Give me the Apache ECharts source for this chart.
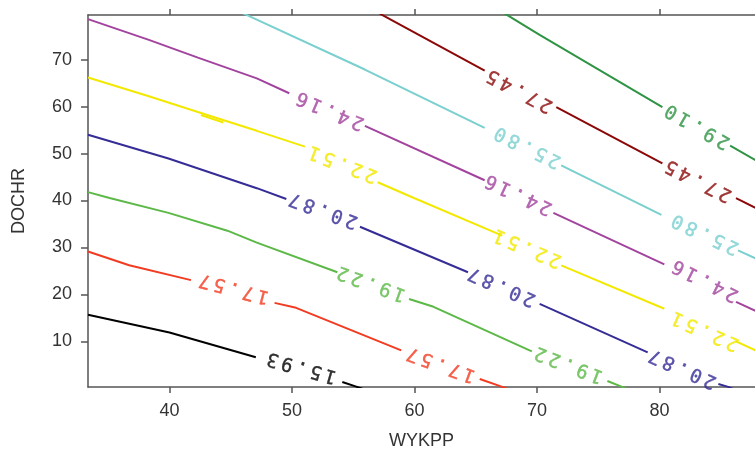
<!DOCTYPE html>
<html><head><meta charset="utf-8">
<script src="https://cdn.jsdelivr.net/npm/echarts@6/dist/echarts.min.js"></script>
<style>html,body{margin:0;padding:0;background:#fff}#c{width:755px;height:455px}</style>
</head><body><div id="c"></div>
<script>
// contour levels and their colours
const levels = ['15.93','17.57','19.22','20.87','22.51','24.16','25.80','27.45','29.10'];
const colors = ['#000000','#f23c22','#5cb947','#352c96','#f3e800','#a2449e','#7acfcf','#8b0808','#2e9444'];
const xTicks = [40,50,60,70,80];
const yTicks = [10,20,30,40,50,60,70];

// contour paths [WYKPP, DOCHR]; null = break (label gap)
const c1593 = [[33.35,15.68],[40,11.89],[47.05,6.63],null,[54.11,1.37],[55.31,0.32],[56.8,-1]];
const c1757 = [[33.35,29.16],[36.71,26.21],[41.76,23.05],null,[48.58,18.21],[50.34,17.16],[58.92,8.11],null,[65.33,2.0],[67.17,0.32],[68.78,-1.16]];
const c1922 = [[33.35,41.79],[35.11,40.53],[39.92,37.37],[44.73,33.58],[47.13,31.05],[53.71,24.74],null,[59.56,19.05],[61.56,17.37],[69.58,7.89],null,[75.75,1.58],[76.95,0.32],[78.4,-1.37]];
const c2087 = [[33.35,54.0],[39.92,48.95],[47.13,42.63],[49.54,40.32],null,[55.55,34.42],[64.37,24.74],null,[70.22,18.0],[79.04,7.68],null,[84.81,0.95],[85.61,0.32],[87.22,-1.37]];
const c2251 = [[33.35,66.21],[38.32,62.21],[42.32,58.84],[47.13,54.84],[51.06,51.47],null,[57.0,43.89],[59.96,40.53],[67.17,32.53],null,[71.98,26.21],[80.4,16.95],null,[86.25,10.0],[88.02,7.89],null,[42.57,58.2],[44.4,56.6]];
const c2416 = [[33.35,78.63],[38.32,74.21],[42.32,70.42],[47.13,66.0],[49.78,62.84],null,[55.95,55.89],[65.73,44.32],null,[71.34,37.37],[80.4,26.42],null,[86.25,18.42],[88.02,16.32]];
const c2580 = [[44.73,81.37],[46.33,79.47],[55.95,67.89],[65.73,55.47],null,[71.98,47.47],[80.16,36.95],null,[86.41,29.37],[88.02,27.47]];
const c2745 = [[55.95,81.79],[57.39,79.47],[65.73,67.68],null,[71.58,59.89],[80.24,47.89],null,[86.25,40.53],[88.02,38.21]];
const c2910 = [[66.37,81.37],[67.58,79.47],[70.22,75.26],[80.24,59.89],null,[85.77,51.68],[88.02,48.32]];

// inline contour labels [WYKPP, DOCHR, slope angle in degrees]
const l1593 = [[50.82,4.53,16]];
const l1757 = [[45.29,21.37,15],[62.2,5.16,20]];
const l1922 = [[56.51,22.42,20],[72.63,5.16,21]];
const l2087 = [[52.59,38.0,20.5],[67.17,21.79,24],[81.92,4.32,24]];
const l2251 = [[54.19,47.89,21],[69.26,30.0,23],[83.77,12.32,24]];
const l2416 = [[53.15,59.26,23],[68.54,41.37,25],[83.77,23.05,27]];
const l2580 = [[69.26,51.47,26],[83.77,32.95,25]];
const l2745 = [[68.62,63.47,28],[83.21,44.32,27]];
const l2910 = [[83.13,55.89,30]];

const paths = [c1593,c1757,c1922,c2087,c2251,c2416,c2580,c2745,c2910];
const labels = [l1593,l1757,l1922,l2087,l2251,l2416,l2580,l2745,l2910];

const series = [];
paths.forEach((p, i) => {
  let seg = [];
  const flush = () => {
    if (seg.length > 1) series.push({
      type: 'line', data: seg, showSymbol: false, symbol: 'none', clip: true, silent: true,
      lineStyle: { color: colors[i], width: 2 }, z: 2
    });
    seg = [];
  };
  p.forEach(pt => { if (pt === null) flush(); else seg.push(pt); });
  flush();
});
labels.forEach((ls, i) => {
  const txt = levels[i].split('').map(ch => '{d|' + ch + '}').join('{s| }');
  series.push({
    type: 'scatter', symbolSize: 0.1, silent: true, z: 3,
    itemStyle: { color: 'rgba(0,0,0,0)' },
    data: ls.map(l => ({ value: [l[0], l[1]], label: { rotate: 180 - l[2] } })),
    label: {
      show: true, position: 'inside', formatter: () => txt,
      color: colors[i], align: 'center', verticalAlign: 'middle',
      rich: {
        d: { fontFamily: 'DejaVu Sans Mono', fontSize: 19, fontWeight: 'normal', color: colors[i], textBorderColor: colors[i], textBorderWidth: 0.4 },
        s: { fontFamily: 'DejaVu Sans Mono', fontSize: 6, color: colors[i] }
      }
    }
  });
});

const axisCol = '#555';
const txtStyle = { fontFamily: 'Liberation Sans', fontSize: 18, color: '#333' };
const chart = echarts.init(document.getElementById('c'), null, { renderer: 'canvas' });
chart.setOption({
  animation: false,
  grid: { left: 88, right: -12, top: 15, bottom: 64, containLabel: false },
  xAxis: [{
    type: 'value', min: 33.35, max: 87.8, position: 'bottom',
    name: 'WYKPP', nameLocation: 'middle', nameGap: 45, nameTextStyle: txtStyle,
    axisLine: { show: true, lineStyle: { color: axisCol, width: 1.5 } },
    axisTick: { show: true, length: 6, customValues: xTicks, lineStyle: { color: axisCol, width: 1.5 } },
    axisLabel: Object.assign({ customValues: xTicks, margin: 15 }, txtStyle),
    splitLine: { show: false }
  }, {
    type: 'value', min: 33.35, max: 87.8, position: 'top',
    axisLine: { show: true, lineStyle: { color: axisCol, width: 1.5 } },
    axisTick: { show: true, length: 6, customValues: xTicks, lineStyle: { color: axisCol, width: 1.5 } },
    axisLabel: { show: false },
    splitLine: { show: false }
  }],
  yAxis: {
    type: 'value', min: 0.3, max: 79.5,
    name: 'DOCHR', nameLocation: 'middle', nameGap: 60, nameTextStyle: txtStyle,
    axisLine: { show: true, lineStyle: { color: axisCol, width: 1.5 } },
    axisTick: { show: true, length: 7, customValues: yTicks, lineStyle: { color: axisCol, width: 1.5 } },
    axisLabel: Object.assign({ customValues: yTicks, margin: 16 }, txtStyle),
    splitLine: { show: false }
  },
  series: series
});
</script></body></html>
